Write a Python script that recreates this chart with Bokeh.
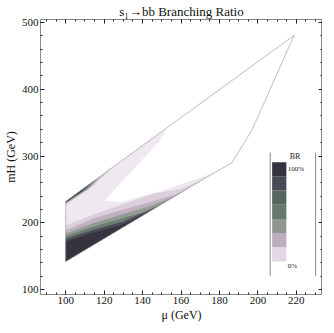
from bokeh.plotting import figure
from bokeh.models import LinearAxis, Range1d, SingleIntervalTicker
from bokeh.embed import file_html
from bokeh.resources import INLINE
from bokeh.core.properties import value

FONT = "Liberation Serif"

# ---------------- data (mu [GeV], mH [GeV]) ----------------
outline_mu = [100, 100, 218.8, 197.0, 186.5, 177.6, 100]
outline_mh = [142, 232, 480.7, 339.4, 290.0, 275.5, 142]

region_mu = [100, 100, 152.5, 149.0, 120.1, 128.8, 149.8, 177.6, 100]
region_mh = [142, 232, 341.9, 323.0, 232.7, 231.0, 247.7, 275.5, 142]

# lower contour bands (boundary from left edge to lower edge), light -> dark
band_colors = ["#dccfdc", "#bfb1c0", "#939a94", "#6a7e6f", "#4a4d59", "#36323f"]
band_mu = [
    [100, 115, 130, 145, 160, 172],
    [100, 115, 130, 145, 158, 167],
    [100, 115, 130, 145, 155, 162],
    [100, 115, 130, 142, 155],
    [100, 115, 130, 148],
    [100, 115, 130, 144],
]
band_mh = [
    [196, 213, 228, 243, 251, 265.8],
    [189, 207, 220, 232, 243, 257.2],
    [184, 200, 213, 226, 238, 248.6],
    [180, 195, 207, 217, 236.6],
    [176, 190, 202, 224.6],
    [172, 186, 198, 217.7],
]

# thin strips along the upper-left edge, light -> dark
strip_colors = ["#cbbecb", "#7d8a82", "#36323f"]
strip_mu = [
    [100, 124, 113, 100],
    [100, 118, 111, 100],
    [100, 116, 108, 100],
]
strip_mh = [
    [232, 282.2, 252, 227],
    [232, 269.7, 250, 229.5],
    [232, 265.5, 246, 230.5],
]

legend_colors = ["#e4d6e4", "#bcaebe", "#8f9790", "#657a6b", "#56665f", "#484a58", "#36323f"]
legend_title = "BR"
legend_top_label = "100%"
legend_bottom_label = "0%"

x_range = (86.9, 233.6)
y_range = (92.6, 504.5)

# ---------------- figure ----------------
p = figure(width=322, height=324, output_backend="svg", toolbar_location=None,
           x_range=Range1d(*x_range), y_range=Range1d(*y_range),
           min_border_left=0, min_border_right=0, min_border_top=0, min_border_bottom=0)
p.title.text = "s\u2081\u2192bb Branching Ratio"
p.title.text_font = FONT
p.title.text_font_style = "normal"
p.title.text_font_size = "13px"
p.title.text_color = "#111111"
p.title.align = "center"
p.title.standoff = 2
p.xgrid.visible = False
p.ygrid.visible = False
p.outline_line_color = "#8a8a8a"
p.background_fill_color = "white"

p.xaxis.ticker = SingleIntervalTicker(interval=20, num_minor_ticks=4)
p.yaxis.ticker = SingleIntervalTicker(interval=100, num_minor_ticks=5)
p.xaxis.axis_label = "\u03bc (GeV)"
p.yaxis.axis_label = "mH (GeV)"

def style_axis(ax, labels=True):
    ax.axis_line_color = "#8a8a8a"
    ax.major_tick_line_color = "#222222"
    ax.minor_tick_line_color = "#222222"
    ax.major_tick_in = 4
    ax.major_tick_out = 0
    ax.minor_tick_in = 2
    ax.minor_tick_out = 0
    ax.major_label_text_font = FONT
    ax.axis_label_text_font = FONT
    ax.axis_label_text_font_size = "12px"
    ax.axis_label_text_font_style = "normal"
    ax.axis_label_text_color = "#111111"
    ax.major_label_text_color = "#111111"
    if labels:
        ax.major_label_text_font_size = "11px"
        ax.major_label_standoff = 2
        ax.axis_label_standoff = 1
    else:
        ax.major_label_text_font_size = "0px"
        ax.major_label_text_color = None
        ax.major_label_standoff = 0
        ax.axis_label_standoff = 0

style_axis(p.xaxis[0])
style_axis(p.yaxis[0])
top_ax = LinearAxis(ticker=SingleIntervalTicker(interval=20, num_minor_ticks=4))
right_ax = LinearAxis(ticker=SingleIntervalTicker(interval=100, num_minor_ticks=5))
style_axis(top_ax, labels=False)
style_axis(right_ax, labels=False)
p.add_layout(top_ax, "above")
p.add_layout(right_ax, "right")

# pale base region
p.patch(region_mu, region_mh, fill_color="#f0e8f0", line_color=None)
for c, xs, ys in zip(band_colors, band_mu, band_mh):
    p.patch(xs + [100], ys + [142], fill_color=c, line_color=None)
for c, xs, ys in zip(strip_colors, strip_mu, strip_mh):
    p.patch(xs, ys, fill_color=c, line_color=None)
p.line(outline_mu, outline_mh, line_color="#a0a0a0", line_width=0.7)

# legend (placed in data space)
lg_left, lg_right = 207.4, 214.8
lg_bottom, lg_top = 142.1, 290.8
n = len(legend_colors)
h = (lg_top - lg_bottom) / n
p.quad(left=[lg_left] * n, right=[lg_right] * n,
       bottom=[lg_bottom + i * h for i in range(n)],
       top=[lg_bottom + (i + 1) * h for i in range(n)],
       fill_color=legend_colors, line_color=None)
p.segment(x0=[206.4, 230.0], y0=[120.8, 120.8], x1=[206.4, 230.0], y1=[305.2, 305.2],
          line_color="#8a8a8a", line_width=1)
p.text(x=[219.3], y=[299.7], text=[legend_title], text_font=value(FONT), text_font_size="8px",
       text_align="center", text_baseline="middle", text_color="#222222")
p.text(x=[215.5], y=[281.0], text=[legend_top_label], text_font=value(FONT), text_font_size="7px",
       text_align="left", text_baseline="middle", text_color="#222222")
p.text(x=[215.5], y=[135.2], text=[legend_bottom_label], text_font=value(FONT), text_font_size="7px",
       text_align="left", text_baseline="middle", text_color="#222222")

open("out.html", "w").write(file_html(p, INLINE))
